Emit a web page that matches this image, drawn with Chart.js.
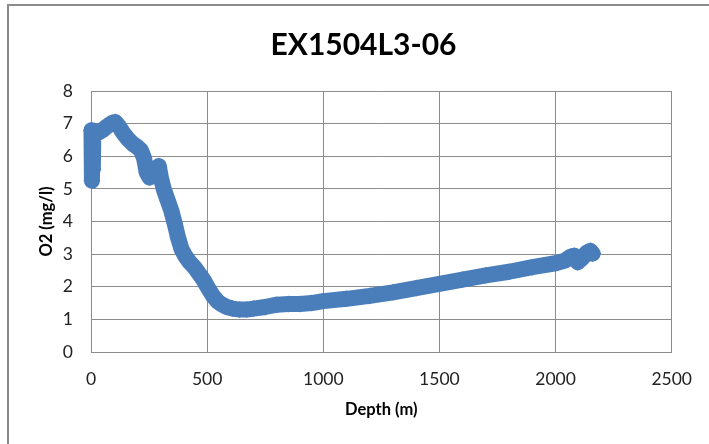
<!DOCTYPE html>
<html>
<head>
<meta charset="utf-8">
<script src="https://cdn.jsdelivr.net/npm/chart.js@4"></script>
<style>
  html, body { margin: 0; padding: 0; background: #fff; overflow: hidden; }
  #frame { position: absolute; left: 7px; top: 4px; width: 760px; height: 500px; border: 2px solid #8a8a8a; }
  #chart { position: absolute; left: 0; top: 0; }
  #title { position: absolute; left: 0; top: 25px; width: 727px; text-align: center;
           font: bold 30px/36px Lato, "Open Sans", sans-serif; color: #000; }
</style>
</head>
<body>
<div id="frame"></div>
<canvas id="chart" width="709" height="444"></canvas>
<div id="title"></div>
<script>
// values
var chartTitle = 'EX1504L3-06';
var xTitle = 'Depth (m)';
var yTitle = 'O2 (mg/l)';

var depth = [2, 4, 6, 8, 10, 30, 50, 70, 90, 105, 120, 140, 160, 180, 200, 215, 228, 240, 252, 265,
  280, 292, 302, 315, 330, 345, 360, 375, 390, 405, 425, 445, 465, 485, 505, 525, 545, 565, 585, 610,
  640, 670, 700, 750, 800, 850, 900, 950, 1000, 1100, 1200, 1300, 1400, 1500, 1600, 1700, 1800, 1900,
  2000, 2040, 2065, 2080, 2095, 2115, 2135, 2150, 2160];
var o2 = [6.8, 5.25, 6.4, 5.6, 6.75, 6.72, 6.8, 6.92, 7.02, 7.05, 6.92, 6.7, 6.52, 6.38, 6.28, 6.18, 5.95, 5.5, 5.35, 5.5,
  5.62, 5.7, 5.3, 4.95, 4.65, 4.35, 3.95, 3.5, 3.15, 2.95, 2.75, 2.6, 2.4, 2.2, 1.95, 1.72, 1.55, 1.45, 1.38, 1.33,
  1.3, 1.3, 1.33, 1.38, 1.45, 1.47, 1.47, 1.5, 1.56, 1.63, 1.72, 1.83, 1.96, 2.09, 2.22, 2.35, 2.46, 2.6,
  2.72, 2.8, 2.92, 2.95, 2.75, 2.88, 3.05, 3.1, 3.02];

var xTicks = [0, 500, 1000, 1500, 2000, 2500];
var yTicks = [0, 1, 2, 3, 4, 5, 6, 7, 8];

var lineColor = '#4A7EBB';
var gridColor = '#8c8c8c';
var fontName = 'Lato, "Open Sans", sans-serif';

document.getElementById('title').textContent = chartTitle;

var points = depth.map(function (d, i) { return { x: d, y: o2[i] }; });

new Chart(document.getElementById('chart'), {
  type: 'scatter',
  data: {
    datasets: [{
      data: points,
      showLine: true,
      clip: false,
      borderColor: lineColor,
      backgroundColor: lineColor,
      borderWidth: 16,
      borderJoinStyle: 'round',
      borderCapStyle: 'round',
      pointStyle: 'rectRot',
      pointRadius: 8.5,
      pointBorderWidth: 0,
      tension: 0
    }]
  },
  options: {
    responsive: false,
    animation: false,
    // plot area: x 91..677, y 91..352
    layout: { padding: { left: 0, right: 32, top: 91, bottom: 0 } },
    plugins: {
      legend: { display: false },
      tooltip: { enabled: false },
      title: { display: false }
    },
    scales: {
      x: {
        type: 'linear',
        min: xTicks[0],
        max: xTicks[xTicks.length - 1],
        afterBuildTicks: function (s) { s.ticks = xTicks.map(function (v) { return { value: v }; }); },
        afterFit: function (s) { s.height = 92; },
        grid: { color: gridColor, lineWidth: 1, drawTicks: false },
        border: { color: gridColor, width: 1 },
        ticks: {
          color: '#222', padding: 17, maxRotation: 0,
          font: { family: fontName, size: 17.5 },
          callback: function (v) { return String(v); }
        },
        title: {
          display: true, text: xTitle, color: '#000',
          font: { family: fontName, size: 16.5, weight: 'bold', lineHeight: 1.2 },
          padding: { top: 0, bottom: 24 }
        }
      },
      y: {
        type: 'linear',
        min: yTicks[0],
        max: yTicks[yTicks.length - 1],
        afterBuildTicks: function (s) { s.ticks = yTicks.map(function (v) { return { value: v }; }); },
        afterFit: function (s) { s.width = 91; },
        grid: { color: gridColor, lineWidth: 1, drawTicks: false },
        border: { color: gridColor, width: 1 },
        ticks: {
          color: '#222', padding: 18,
          font: { family: fontName, size: 17.5 },
          callback: function (v) { return String(v); }
        },
        title: {
          display: true, text: yTitle, color: '#000',
          font: { family: fontName, size: 16.5, weight: 'bold', lineHeight: 1.2 },
          padding: { top: 37, bottom: 0 }
        }
      }
    }
  }
});
</script>
</body>
</html>
